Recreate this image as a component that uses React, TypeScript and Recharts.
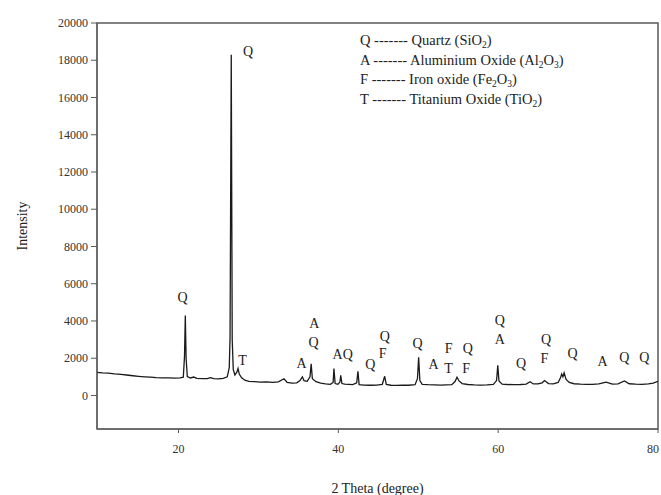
import React from "react";
import {
  ComposedChart,
  Line,
  Scatter,
  XAxis,
  YAxis,
  ReferenceArea,
  Label,
} from "recharts";

// XRD pattern (2θ in degrees, intensity in counts)
const twoTheta = [
  9.8, 10.5, 11.2, 12, 12.8, 13.5, 14.3, 15, 15.8, 16.5, 17.2, 18, 18.8, 19.5,
  20.2, 20.6, 20.75, 20.85, 20.95, 21.1, 21.5, 21.9, 22.3, 23, 23.6, 24, 24.4,
  25, 25.6, 26.1, 26.35, 26.45, 26.6, 26.72, 26.85, 27.05, 27.3, 27.45, 27.6,
  27.9, 28.3, 28.8, 29.5, 30.2, 31, 31.8, 32.5, 33.2, 33.6, 34.2, 34.8, 35.2,
  35.5, 35.7, 36.1, 36.45, 36.6, 36.75, 37.2, 37.8, 38.4, 39, 39.35, 39.45,
  39.6, 39.95, 40.2, 40.3, 40.45, 40.8, 41.3, 41.8, 42.3, 42.45, 42.6, 43.2, 44,
  44.8, 45.5, 45.8, 46, 46.6, 47.3, 48, 48.8, 49.6, 49.9, 50.05, 50.2, 50.5,
  51.2, 52, 52.8, 53.5, 54.2, 54.6, 54.85, 55.1, 55.5, 56.2, 57, 57.8, 58.6,
  59.4, 59.8, 59.95, 60.1, 60.5, 61.2, 62, 62.8, 63.5, 64, 64.4, 65, 65.5, 65.8,
  66.3, 66.9, 67.5, 67.8, 67.95, 68.1, 68.25, 68.5, 68.9, 69.5, 70.3, 71, 71.8,
  72.6, 73.5, 74.3, 75, 75.8, 76.4, 77.2, 78, 78.8, 79.4, 80,
];
const intensity = [
  1240, 1210, 1200, 1160, 1130, 1100, 1060, 1030, 1000, 980, 960, 950, 940, 930,
  950, 980, 2100, 4300, 2000, 1020, 940, 990, 920, 910, 900, 960, 900,
  890, 920, 1000, 1500, 3100, 18300, 3000, 1400, 1100, 1250, 1450, 1150,
  950, 820, 760, 740, 720, 730, 700, 730, 900, 700, 660, 680, 800,
  1000, 800, 760, 1000, 1700, 900, 740, 660, 620, 600, 700, 1450,
  640, 600, 720, 1080, 640, 610, 600, 580, 680, 1300, 580, 560, 550,
  560, 600, 1030, 590, 550, 540, 560, 550, 580, 900, 2050, 800, 600,
  580, 570, 560, 570, 580, 750, 980, 780, 640, 590, 570, 560, 570,
  600, 800, 1620, 780, 610, 590, 580, 590, 610, 740, 620, 620, 680, 800,
  640, 620, 700, 950, 1150, 1000, 1220, 860, 700, 630, 610, 600, 600,
  620, 720, 610, 620, 780, 630, 610, 600, 620, 660, 760,
];

// phase labels placed above the peaks
const labelText = [
  "Q", "Q", "T", "A", "A", "Q", "AQ", "Q", "Q", "F",
  "Q", "A", "F", "T", "Q", "F", "Q", "A", "Q", "Q",
  "F", "Q", "A", "Q", "Q",
];
const labelTheta = [
  20.5, 28.7, 28.0, 35.4, 37.0, 36.9, 40.55, 44.0, 45.8, 45.55,
  49.9, 51.9, 53.8, 53.8, 56.2, 56.0, 60.2, 60.2, 62.85, 66.0,
  65.8, 69.3, 73.05, 75.8, 78.3,
];
const labelIntensity = [
  5260, 18470, 1860, 1740, 3850, 2850, 2180, 1650, 3170, 2240,
  2810, 1650, 2500, 1430, 2500, 1430, 4030, 3030, 1740, 2990,
  2000, 2240, 1830, 2060, 2060,
];

const yTicks = [0, 2000, 4000, 6000, 8000, 10000, 12000, 14000, 16000, 18000, 20000];
const xTicks = [20, 40, 60, 80];

const pattern = twoTheta.map((t, i) => ({ theta: t, intensity: intensity[i] }));
const labels = labelText.map((text, i) => ({
  theta: labelTheta[i],
  v: labelIntensity[i],
  text,
}));

const FONT = '"Liberation Serif", "Times New Roman", serif';
const AXIS = "#5a5a5a";

const PeakLabel = (props: any) => {
  const { cx, cy, payload } = props;
  return (
    <text
      x={cx}
      y={cy}
      textAnchor="middle"
      dominantBaseline="central"
      fontFamily={FONT}
      fontSize={14}
      fill="#222"
    >
      {payload.text}
    </text>
  );
};

const AxisTick = (props: any) => {
  const { x, y, payload, textAnchor, vertical } = props;
  return (
    <text
      x={x}
      y={y}
      dy={vertical ? "0.35em" : "0.71em"}
      textAnchor={textAnchor}
      fontFamily={FONT}
      fontSize={12}
      fill="#333"
    >
      {payload.value}
    </text>
  );
};

const sub = { fontSize: 9.5, verticalAlign: "-3px", lineHeight: 0 } as const;

export default function App() {
  return (
    <div
      style={{
        position: "absolute",
        left: 0,
        top: 0,
        width: 661,
        height: 495,
        background: "#fff",
        fontFamily: FONT,
      }}
    >
      <ComposedChart
        width={661}
        height={495}
        data={pattern}
        margin={{ top: 23, right: 3, left: 0, bottom: 0 }}
        style={{ fontFamily: FONT }}
      >
        <XAxis
          dataKey="theta"
          type="number"
          domain={[9.8, 80]}
          ticks={xTicks}
          allowDataOverflow
          height={66}
          tickSize={4}
          tickMargin={11}
          stroke={AXIS}
          tick={(p: any) => <AxisTick {...p} vertical={false} />}
        >
          <Label
            value="2 Theta (degree)"
            position="insideBottom"
            offset={2}
            style={{ fill: "#222", fontSize: 14, fontFamily: FONT }}
          />
        </XAxis>
        <YAxis
          type="number"
          domain={[-1800, 20000]}
          ticks={yTicks}
          allowDataOverflow
          width={97}
          tickSize={6}
          tickMargin={3}
          stroke={AXIS}
          tick={(p: any) => <AxisTick {...p} vertical />}
        >
          <Label
            value="Intensity"
            angle={-90}
            position="insideLeft"
            offset={22}
            style={{ textAnchor: "middle", fill: "#222", fontSize: 14, fontFamily: FONT }}
          />
        </YAxis>
        <ReferenceArea
          x1={9.8}
          x2={80}
          y1={-1800}
          y2={20000}
          fill="none"
          stroke={AXIS}
          strokeWidth={1.5}
        />
        <Line
          type="linear"
          dataKey="intensity"
          stroke="#1a1a1a"
          strokeWidth={1.3}
          dot={false}
          isAnimationActive={false}
        />
        <Scatter
          data={labels}
          dataKey="v"
          shape={PeakLabel}
          isAnimationActive={false}
        />
      </ComposedChart>
      <div
        style={{
          position: "absolute",
          left: 360,
          top: 31,
          fontSize: 14.5,
          lineHeight: "19.5px",
          color: "#222",
          whiteSpace: "nowrap",
        }}
      >
        <div>
          Q ------- Quartz (SiO<span style={sub}>2</span>)
        </div>
        <div>
          A ------- Aluminium Oxide (Al<span style={sub}>2</span>O<span style={sub}>3</span>)
        </div>
        <div>
          F ------- Iron oxide (Fe<span style={sub}>2</span>O<span style={sub}>3</span>)
        </div>
        <div>
          T ------- Titanium Oxide (TiO<span style={sub}>2</span>)
        </div>
      </div>
    </div>
  );
}
